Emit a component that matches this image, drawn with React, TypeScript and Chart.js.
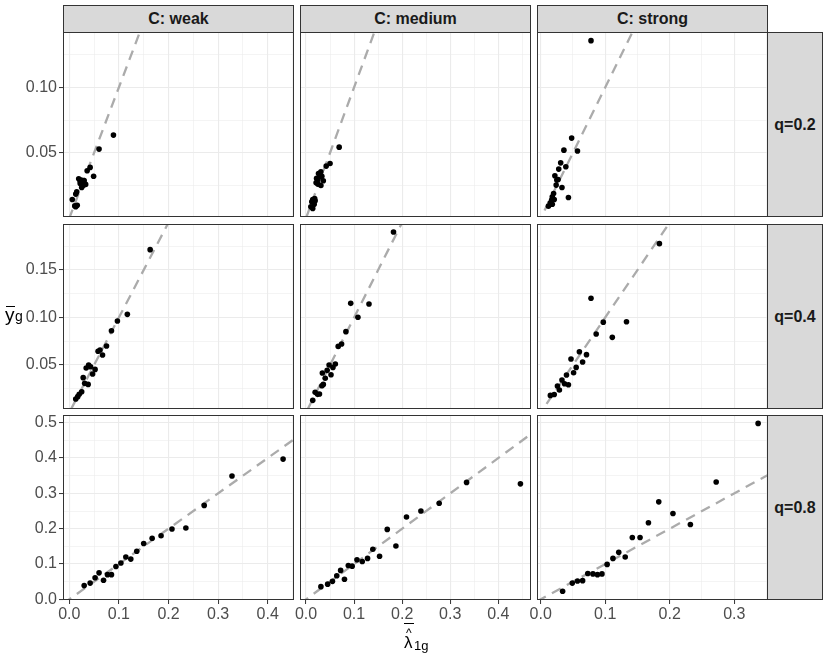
import { useEffect, useRef } from "react"
import { Chart, registerables } from "chart.js"

Chart.register(...registerables)

const colLabels = ["C: weak", "C: medium", "C: strong"]
const rowLabels = ["q=0.2", "q=0.4", "q=0.8"]

// x = lambda-hat-bar 1g, y = y-bar g, one pair of arrays per panel
const lamWeakQ2 = [0.089, 0.06, 0.042, 0.036, 0.049, 0.019, 0.024, 0.03, 0.022, 0.028, 0.033, 0.025, 0.015, 0.013, 0.006, 0.011, 0.016, 0.013, 0.022, 0.029]
const ybarWeakQ2 = [0.0635, 0.0528, 0.0388, 0.0362, 0.0321, 0.0301, 0.0291, 0.0288, 0.0265, 0.025, 0.0258, 0.0235, 0.0201, 0.0184, 0.0143, 0.0094, 0.0099, 0.0087, 0.0283, 0.027]
const lamMediumQ2 = [0.069, 0.05, 0.042, 0.031, 0.026, 0.033, 0.022, 0.036, 0.021, 0.025, 0.031, 0.018, 0.014, 0.012, 0.01, 0.014, 0.017, 0.029, 0.024, 0.019]
const ybarMediumQ2 = [0.0543, 0.0418, 0.0398, 0.0355, 0.0342, 0.0321, 0.0304, 0.0286, 0.027, 0.026, 0.025, 0.015, 0.0143, 0.0125, 0.0087, 0.0074, 0.0107, 0.0316, 0.0291, 0.0133]
const lamStrongQ2 = [0.078, 0.048, 0.036, 0.057, 0.031, 0.039, 0.028, 0.022, 0.027, 0.024, 0.033, 0.043, 0.02, 0.018, 0.017, 0.015, 0.012, 0.018, 0.025, 0.021]
const ybarStrongQ2 = [0.1357, 0.0612, 0.052, 0.0513, 0.0423, 0.0393, 0.0375, 0.0324, 0.0296, 0.0253, 0.0235, 0.0158, 0.0189, 0.0163, 0.0138, 0.0117, 0.0092, 0.0107, 0.0291, 0.0143]

const lamWeakQ4 = [0.163, 0.117, 0.097, 0.085, 0.075, 0.058, 0.062, 0.067, 0.039, 0.034, 0.043, 0.052, 0.047, 0.028, 0.031, 0.038, 0.025, 0.02, 0.013, 0.017]
const ybarWeakQ4 = [0.1714, 0.1033, 0.0963, 0.0861, 0.07, 0.0644, 0.0658, 0.0605, 0.05, 0.0468, 0.0482, 0.0454, 0.0405, 0.0367, 0.0307, 0.0296, 0.0219, 0.0191, 0.0142, 0.0167]
const lamMediumQ4 = [0.182, 0.093, 0.131, 0.108, 0.083, 0.067, 0.074, 0.048, 0.061, 0.056, 0.044, 0.034, 0.052, 0.04, 0.033, 0.036, 0.019, 0.024, 0.028, 0.014]
const ybarMediumQ4 = [0.19, 0.1149, 0.1142, 0.1002, 0.0851, 0.0696, 0.0721, 0.05, 0.0511, 0.0475, 0.0444, 0.0416, 0.0398, 0.036, 0.0282, 0.0296, 0.0212, 0.0191, 0.0195, 0.0128]
const lamStrongQ4 = [0.184, 0.078, 0.097, 0.133, 0.086, 0.111, 0.06, 0.071, 0.047, 0.065, 0.055, 0.051, 0.04, 0.033, 0.043, 0.037, 0.026, 0.029, 0.021, 0.015]
const ybarStrongQ4 = [0.1777, 0.1202, 0.0951, 0.0956, 0.0826, 0.0791, 0.064, 0.0609, 0.0563, 0.0532, 0.0475, 0.0419, 0.0395, 0.0342, 0.0293, 0.0303, 0.0279, 0.0237, 0.019, 0.018]

const lamWeakQ8 = [0.03, 0.042, 0.052, 0.06, 0.069, 0.077, 0.085, 0.094, 0.104, 0.114, 0.124, 0.136, 0.15, 0.167, 0.185, 0.207, 0.235, 0.272, 0.328, 0.431]
const ybarWeakQ8 = [0.039, 0.046, 0.061, 0.075, 0.054, 0.07, 0.07, 0.093, 0.103, 0.12, 0.114, 0.136, 0.158, 0.173, 0.18, 0.199, 0.202, 0.266, 0.349, 0.397]
const lamMediumQ8 = [0.031, 0.045, 0.055, 0.064, 0.072, 0.08, 0.088, 0.096, 0.106, 0.117, 0.128, 0.139, 0.153, 0.169, 0.187, 0.209, 0.239, 0.277, 0.334, 0.446]
const ybarMediumQ8 = [0.036, 0.043, 0.051, 0.067, 0.082, 0.057, 0.096, 0.094, 0.112, 0.107, 0.116, 0.142, 0.122, 0.198, 0.151, 0.233, 0.25, 0.272, 0.331, 0.327]
const lamStrongQ8 = [0.034, 0.049, 0.057, 0.065, 0.073, 0.081, 0.088, 0.095, 0.103, 0.112, 0.121, 0.131, 0.142, 0.154, 0.167, 0.183, 0.205, 0.232, 0.272, 0.337]
const ybarStrongQ8 = [0.023, 0.046, 0.052, 0.053, 0.073, 0.072, 0.07, 0.072, 0.099, 0.116, 0.133, 0.12, 0.175, 0.175, 0.217, 0.276, 0.243, 0.212, 0.332, 0.498]

// free scales: x per column, y per row
const xLimits = [[-0.0127, 0.453], [-0.0125, 0.468], [-0.0057, 0.3523]]
const yLimits = [[0.0009, 0.1423], [0.0037, 0.1984], [-0.0018, 0.5218]]
const xMajor = [[0, 0.1, 0.2, 0.3, 0.4], [0, 0.1, 0.2, 0.3, 0.4], [0, 0.1, 0.2, 0.3]]
const xMajorLabels = [["0.0", "0.1", "0.2", "0.3", "0.4"], ["0.0", "0.1", "0.2", "0.3", "0.4"], ["0.0", "0.1", "0.2", "0.3"]]
const xMinor = [[0.05, 0.15, 0.25, 0.35, 0.45], [0.05, 0.15, 0.25, 0.35, 0.45], [0.05, 0.15, 0.25, 0.35]]
const yMajor = [[0.05, 0.1], [0.05, 0.1, 0.15], [0, 0.1, 0.2, 0.3, 0.4, 0.5]]
const yMajorLabels = [["0.05", "0.10"], ["0.05", "0.10", "0.15"], ["0.0", "0.1", "0.2", "0.3", "0.4", "0.5"]]
const yMinor = [[0.025, 0.075, 0.125], [0.025, 0.075, 0.125, 0.175], [0.05, 0.15, 0.25, 0.35, 0.45]]

const panels = [
  [[lamWeakQ2, ybarWeakQ2], [lamMediumQ2, ybarMediumQ2], [lamStrongQ2, ybarStrongQ2]],
  [[lamWeakQ4, ybarWeakQ4], [lamMediumQ4, ybarMediumQ4], [lamStrongQ4, ybarStrongQ4]],
  [[lamWeakQ8, ybarWeakQ8], [lamMediumQ8, ybarMediumQ8], [lamStrongQ8, ybarStrongQ8]],
]

const FONT = "'Liberation Sans', Arial, Helvetica, sans-serif"
const colLeft = [63, 300, 537]
const rowTop = [32, 224, 415]
const PANEL_W = 231
const PANEL_H = 185
const PAD = 24
const X_AXIS_H = 30

const near = (a: number, b: number) => Math.abs(a - b) < 1e-9

const borderPlugin = {
  id: "panelBorder",
  afterDraw(chart: any) {
    const { ctx, chartArea } = chart
    ctx.save()
    ctx.strokeStyle = "#333333"
    ctx.lineWidth = 1
    ctx.strokeRect(chartArea.left + 0.5, chartArea.top + 0.5, chartArea.right - chartArea.left - 1, chartArea.bottom - chartArea.top - 1)
    ctx.restore()
  },
}

function Panel({ row, col }: { row: number; col: number }) {
  const ref = useRef<HTMLCanvasElement>(null)
  const isLeft = col === 0
  const isBottom = row === 2
  const left = isLeft ? 0 : colLeft[col] - PAD
  const top = rowTop[row] - PAD
  const width = colLeft[col] + PANEL_W + PAD - left
  const height = PAD + PANEL_H + (isBottom ? X_AXIS_H : PAD)

  useEffect(() => {
    if (!ref.current) return
    const [xs, ys] = panels[row][col]
    const [x0, x1] = xLimits[col]
    const pts = xs.map((x, i) => ({ x, y: ys[i] }))

    const xGrid = [...xMajor[col], ...xMinor[col]].sort((a, b) => a - b)
    const yGrid = [...yMajor[row], ...yMinor[row]].sort((a, b) => a - b)
    const isXMajor = (v: number) => xMajor[col].some((m) => near(m, v))
    const isYMajor = (v: number) => yMajor[row].some((m) => near(m, v))

    const chart = new Chart(ref.current, {
      type: "scatter",
      data: {
        datasets: [
          {
            // identity line y = x across the panel's x range
            data: [{ x: x0, y: x0 }, { x: x1, y: x1 }],
            showLine: true,
            borderColor: "#ABABAB",
            borderWidth: 2.3,
            borderDash: [10, 7],
            pointRadius: 0,
            clip: 0,
            order: 2,
          },
          {
            data: pts,
            backgroundColor: "#000000",
            borderWidth: 0,
            pointRadius: 2.8,
            clip: 4,
            order: 1,
          },
        ],
      },
      options: {
        animation: false,
        responsive: false,
        events: [],
        layout: { padding: { left: isLeft ? 0 : PAD, right: PAD, top: PAD, bottom: isBottom ? 0 : PAD } },
        plugins: { legend: { display: false }, tooltip: { enabled: false } },
        scales: {
          x: {
            type: "linear",
            min: x0,
            max: x1,
            afterBuildTicks: (axis: any) => {
              axis.ticks = xGrid.map((v) => ({ value: v }))
            },
            afterFit: (axis: any) => {
              axis.height = isBottom ? X_AXIS_H : 0
              axis.paddingLeft = 0
              axis.paddingRight = 0
            },
            border: { display: false },
            grid: {
              color: "#EBEBEB",
              lineWidth: (c: any) => (isXMajor(c.tick.value) ? 1.1 : 0.55),
              drawTicks: isBottom,
              tickLength: 4,
              tickWidth: 1,
              tickColor: (c: any) => (isXMajor(c.tick.value) ? "#333333" : "rgba(0,0,0,0)"),
            },
            ticks: {
              display: isBottom,
              autoSkip: false,
              maxRotation: 0,
              padding: 1,
              color: "#4D4D4D",
              font: { family: FONT, size: 16 },
              callback: (v: any) => {
                const i = xMajor[col].findIndex((m) => near(m, Number(v)))
                return i >= 0 ? xMajorLabels[col][i] : ""
              },
            },
          },
          y: {
            type: "linear",
            min: yLimits[row][0],
            max: yLimits[row][1],
            afterBuildTicks: (axis: any) => {
              axis.ticks = yGrid.map((v) => ({ value: v }))
            },
            afterFit: (axis: any) => {
              axis.width = isLeft ? colLeft[0] : 0
              axis.paddingTop = 0
              axis.paddingBottom = 0
            },
            border: { display: false },
            grid: {
              color: "#EBEBEB",
              lineWidth: (c: any) => (isYMajor(c.tick.value) ? 1.1 : 0.55),
              drawTicks: isLeft,
              tickLength: 4,
              tickWidth: 1,
              tickColor: (c: any) => (isYMajor(c.tick.value) ? "#333333" : "rgba(0,0,0,0)"),
            },
            ticks: {
              display: isLeft,
              autoSkip: false,
              padding: 2,
              color: "#4D4D4D",
              font: { family: FONT, size: 16 },
              callback: (v: any) => {
                const i = yMajor[row].findIndex((m) => near(m, Number(v)))
                return i >= 0 ? yMajorLabels[row][i] : ""
              },
            },
          },
        },
      },
      plugins: [borderPlugin],
    })

    return () => {
      chart.destroy()
    }
  }, [row, col])

  return (
    <canvas
      ref={ref}
      width={width}
      height={height}
      style={{ position: "absolute", left, top, width, height }}
    />
  )
}

const stripStyle: React.CSSProperties = {
  position: "absolute",
  boxSizing: "border-box",
  background: "#D9D9D9",
  border: "1px solid #333333",
  display: "flex",
  alignItems: "center",
  justifyContent: "center",
  fontFamily: FONT,
  fontWeight: "bold",
  fontSize: 16,
  color: "#1A1A1A",
}

export default function App() {
  return (
    <div style={{ position: "fixed", left: 0, top: 0, width: 830, height: 664, background: "#FFFFFF", overflow: "hidden" }}>
      {colLabels.map((label, c) => (
        <div key={label} style={{ ...stripStyle, left: colLeft[c], top: 5, width: PANEL_W, height: 28 }}>
          {label}
        </div>
      ))}
      {rowLabels.map((label, r) => (
        <div key={label} style={{ ...stripStyle, left: colLeft[2] + PANEL_W - 1, top: rowTop[r], width: 56, height: PANEL_H }}>
          {label}
        </div>
      ))}
      {[0, 1, 2].map((r) => [0, 1, 2].map((c) => <Panel key={`${r}-${c}`} row={r} col={c} />))}

      {/* y axis title: y-bar with subscript g */}
      <div style={{ position: "absolute", left: 0, top: 0, fontFamily: FONT, color: "#000000" }}>
        <div style={{ position: "absolute", left: 6, top: 306, width: 9, height: 1, background: "#000000" }} />
        <span style={{ position: "absolute", left: 5, top: 305, fontSize: 19, lineHeight: "19px" }}>y</span>
        <span style={{ position: "absolute", left: 15, top: 309, fontSize: 14, lineHeight: "14px" }}>g</span>
      </div>

      {/* x axis title: lambda with hat and bar, subscript 1g */}
      <div style={{ position: "absolute", left: 0, top: 0, fontFamily: FONT, color: "#000000" }}>
        <div style={{ position: "absolute", left: 404, top: 623, width: 10, height: 1, background: "#000000" }} />
        <span style={{ position: "absolute", left: 406, top: 627, fontSize: 12, lineHeight: "12px" }}>^</span>
        <span style={{ position: "absolute", left: 404, top: 634, fontSize: 17, lineHeight: "17px" }}>λ</span>
        <span style={{ position: "absolute", left: 414, top: 638.5, fontSize: 13, lineHeight: "13px" }}>1g</span>
      </div>
    </div>
  )
}
